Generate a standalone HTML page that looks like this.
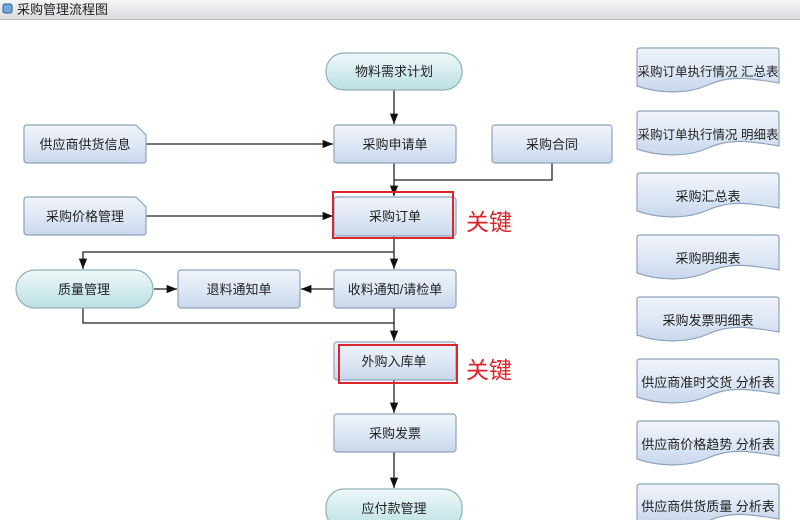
<!DOCTYPE html>
<html><head><meta charset="utf-8"><style>
html,body{margin:0;padding:0;background:#fff;}
svg text{font-family:"Liberation Sans","Noto Sans CJK SC",sans-serif;}
</style></head><body>
<svg width="800" height="520" viewBox="0 0 800 520" xmlns="http://www.w3.org/2000/svg">
<defs>
<linearGradient id="tb" x1="0" y1="0" x2="0" y2="1"><stop offset="0" stop-color="#f4f5f6"/><stop offset="1" stop-color="#d9dcdf"/></linearGradient>
<linearGradient id="bx" x1="0" y1="0" x2="0" y2="1"><stop offset="0" stop-color="#f0f4fa"/><stop offset="0.5" stop-color="#dfe8f5"/><stop offset="1" stop-color="#c9d7ec"/></linearGradient>
<linearGradient id="tm" x1="0" y1="0" x2="0" y2="1"><stop offset="0" stop-color="#eef8f8"/><stop offset="0.5" stop-color="#d4ecee"/><stop offset="1" stop-color="#bcdfe3"/></linearGradient>
<marker id="ar" viewBox="0 0 10 10" refX="10" refY="5" markerWidth="8" markerHeight="8" orient="auto"><path d="M0,1 L10,5 L0,9 z" fill="#111"/></marker>
</defs>
<rect x="0" y="0" width="800" height="19" fill="url(#tb)"/>
<line x1="0" y1="19.5" x2="800" y2="19.5" stroke="#b8bcc0"/>
<rect x="3" y="4" width="9" height="9" rx="2" fill="#6fa8dc" stroke="#2d5f8f"/>
<text x="17" y="14" font-size="13" fill="#222">采购管理流程图</text>

<g stroke="#222" stroke-width="1.3" fill="none">
<line x1="394" y1="90" x2="394" y2="124" marker-end="url(#ar)"/>
<line x1="146" y1="144" x2="333" y2="144" marker-end="url(#ar)"/>
<polyline points="552,163 552,180 394,180"/>
<line x1="394" y1="163" x2="394" y2="196" marker-end="url(#ar)"/>
<line x1="146" y1="216" x2="333" y2="216" marker-end="url(#ar)"/>
<line x1="394" y1="236" x2="394" y2="269" marker-end="url(#ar)"/>
<polyline points="394,252 83,252 83,269" marker-end="url(#ar)"/>
<line x1="334" y1="289" x2="301" y2="289" marker-end="url(#ar)"/>
<line x1="154" y1="289" x2="177" y2="289" marker-end="url(#ar)"/>
<polyline points="83,308 83,323 394,323"/>
<line x1="394" y1="308" x2="394" y2="341" marker-end="url(#ar)"/>
<line x1="394" y1="380" x2="394" y2="413" marker-end="url(#ar)"/>
<line x1="394" y1="452" x2="394" y2="488" marker-end="url(#ar)"/>
</g>

<g stroke="#8fa3bd" stroke-width="1.2">
<rect x="326" y="53" width="136" height="37" rx="18" fill="url(#tm)" stroke="#8fb0b5"/>
<rect x="16" y="270" width="137" height="38" rx="19" fill="url(#tm)" stroke="#8fb0b5"/>
<rect x="326" y="489" width="136" height="40" rx="18" fill="url(#tm)" stroke="#8fb0b5"/>
<rect x="334" y="125" width="122" height="38" rx="3" fill="url(#bx)"/>
<rect x="492" y="125" width="120" height="38" rx="3" fill="url(#bx)"/>
<rect x="334" y="197" width="122" height="39" rx="3" fill="url(#bx)"/>
<rect x="178" y="270" width="122" height="38" rx="3" fill="url(#bx)"/>
<rect x="334" y="270" width="122" height="38" rx="3" fill="url(#bx)"/>
<rect x="334" y="342" width="122" height="38" rx="3" fill="url(#bx)"/>
<rect x="334" y="414" width="122" height="38" rx="3" fill="url(#bx)"/>
<path d="M27,125 H136 L146,135 V160 Q146,163 143,163 H27 Q24,163 24,160 V128 Q24,125 27,125 Z" fill="url(#bx)"/>
<path d="M27,197 H136 L146,207 V232 Q146,235 143,235 H27 Q24,235 24,232 V200 Q24,197 27,197 Z" fill="url(#bx)"/>
</g>

<g stroke="#8fa3bd" stroke-width="1.2" fill="url(#bx)">
<path d="M640,48 H776 Q779,48 779,51 V83 C750,78 730,75 708,85 C688,94 660,94 637,86 V51 Q637,48 640,48 Z"/>
<path d="M640,111 H776 Q779,111 779,114 V146 C750,141 730,138 708,148 C688,157 660,157 637,149 V114 Q637,111 640,111 Z"/>
<path d="M640,173 H776 Q779,173 779,176 V208 C750,203 730,200 708,210 C688,219 660,219 637,211 V176 Q637,173 640,173 Z"/>
<path d="M640,235 H776 Q779,235 779,238 V270 C750,265 730,262 708,272 C688,281 660,281 637,273 V238 Q637,235 640,235 Z"/>
<path d="M640,297 H776 Q779,297 779,300 V332 C750,327 730,324 708,334 C688,343 660,343 637,335 V300 Q637,297 640,297 Z"/>
<path d="M640,359 H776 Q779,359 779,362 V394 C750,389 730,386 708,396 C688,405 660,405 637,397 V362 Q637,359 640,359 Z"/>
<path d="M640,421 H776 Q779,421 779,424 V456 C750,451 730,448 708,458 C688,467 660,467 637,459 V424 Q637,421 640,421 Z"/>
<path d="M640,484 H776 Q779,484 779,487 V519 C750,514 730,511 708,521 L637,522 V487 Q637,484 640,484 Z"/>
</g>

<g stroke="#d9262b" stroke-width="2" fill="none">
<rect x="333" y="192" width="120" height="46"/>
<rect x="339" y="345" width="118" height="38"/>
</g>
<text x="466" y="230" font-size="23" fill="#d9262b">关键</text>
<text x="466" y="378" font-size="23" fill="#d9262b">关键</text>

<g font-size="13" fill="#222" text-anchor="middle">
<text x="394" y="76">物料需求计划</text>
<text x="85" y="149">供应商供货信息</text>
<text x="395" y="149">采购申请单</text>
<text x="552" y="149">采购合同</text>
<text x="85" y="221">采购价格管理</text>
<text x="395" y="221">采购订单</text>
<text x="84" y="294">质量管理</text>
<text x="239" y="294">退料通知单</text>
<text x="395" y="294">收料通知/请检单</text>
<text x="394" y="366">外购入库单</text>
<text x="395" y="438">采购发票</text>
<text x="394" y="513">应付款管理</text>
<text x="708" y="76" font-size="12.5">采购订单执行情况 汇总表</text>
<text x="708" y="139" font-size="12.5">采购订单执行情况 明细表</text>
<text x="708" y="201">采购汇总表</text>
<text x="708" y="263">采购明细表</text>
<text x="708" y="325">采购发票明细表</text>
<text x="708" y="387">供应商准时交货 分析表</text>
<text x="708" y="449">供应商价格趋势 分析表</text>
<text x="708" y="511">供应商供货质量 分析表</text>
</g>
</svg>
</body></html>
